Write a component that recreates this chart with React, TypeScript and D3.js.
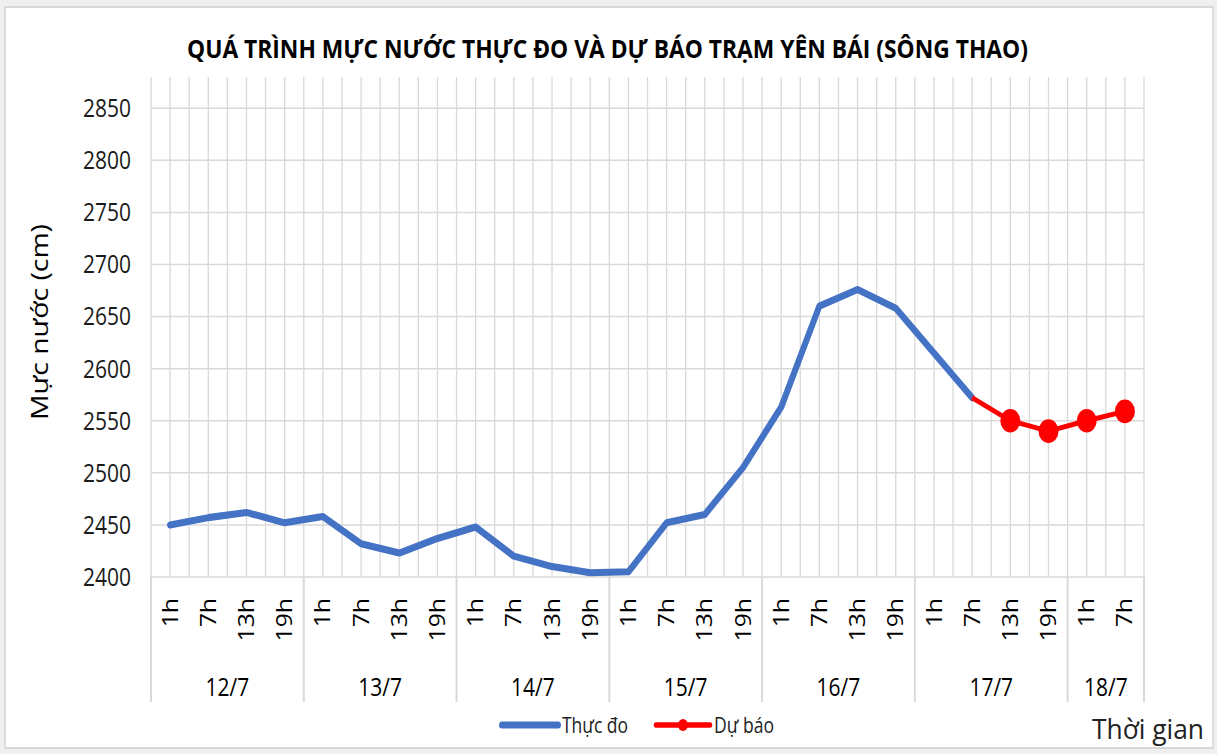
import React from "react";
import * as d3 from "d3";

// water level, station Yên Bái (sông Thao)
const days = ["12/7", "13/7", "14/7", "15/7", "16/7", "17/7", "18/7"];
const hours = ["1h", "7h", "13h", "19h"];
const categories = [
  ...days.slice(0, 6).flatMap(d => hours.map(h => ({ day: d, hour: h }))),
  { day: "18/7", hour: "1h" },
  { day: "18/7", hour: "7h" },
];

const observed = [
  2450, 2457, 2462, 2452,
  2458, 2432, 2423, 2437,
  2448, 2420, 2410, 2404,
  2405, 2452, 2460, 2505,
  2563, 2660, 2676, 2658,
  2615, 2572,
];
// first value is the last observed point, no marker there
const forecast = [2572, 2550, 2540, 2550, 2559];
const forecastStart = 21;

const yTicks = d3.range(2400, 2851, 50);

const W = 1217;
const H = 754;
const S = 1.18; // the picture is a bit stretched vertically
const v = (px: number) => px / S;

const margin = { left: 151, right: 1144, top: 77, bottom: 577 };
const font = "'Open Sans', sans-serif";
const gridColor = "#d9d9d9";

export default function App() {
  const x = d3
    .scaleBand<number>()
    .domain(categories.map((_, i) => i))
    .range([margin.left, margin.right]);
  const bw = x.bandwidth();
  const cx = (i: number) => (x(i) as number) + bw / 2;

  const y = d3.scaleLinear().domain([2400, 2880]).range([v(margin.bottom), v(margin.top)]);

  const line = d3
    .line<{ i: number; val: number }>()
    .x(d => cx(d.i))
    .y(d => y(d.val));

  const obsData = observed.map((val, i) => ({ i, val }));
  const fcData = forecast.map((val, k) => ({ i: forecastStart + k, val }));

  // day groups
  const groups = days.map(d => {
    const idx = categories.map((c, i) => (c.day === d ? i : -1)).filter(i => i >= 0);
    return { day: d, first: idx[0], last: idx[idx.length - 1] };
  });
  const sepX = [...groups.map(g => x(g.first) as number), margin.right];

  const vLines = d3.range(0, categories.length * 2 + 1).map(k => margin.left + (k * bw) / 2);

  return (
    <svg
      width={W}
      height={H}
      viewBox={`0 0 ${W} ${H / S}`}
      preserveAspectRatio="none"
      style={{ position: "absolute", left: 0, top: 0 }}
      fontFamily={font}
    >
      <rect x={0} y={0} width={W} height={H / S} fill="#efefef" />
      <rect x={5} y={v(7)} width={1208} height={v(741)} fill="#fff" stroke="#d4d4d4" strokeWidth={1.5} />

      <text
        x={187}
        y={v(58)}
        fontSize={21.5}
        fontWeight="bold"
        textLength={841}
        lengthAdjust="spacingAndGlyphs"
        fill="#000"
      >
        QUÁ TRÌNH MỰC NƯỚC THỰC ĐO VÀ DỰ BÁO TRẠM YÊN BÁI (SÔNG THAO)
      </text>

      {/* grid */}
      <g stroke={gridColor} strokeWidth={1.3}>
        {vLines.map((px, k) => (
          <line key={"v" + k} x1={px} x2={px} y1={v(margin.top)} y2={v(margin.bottom)} />
        ))}
        {yTicks.map(t => (
          <line key={"h" + t} x1={margin.left} x2={margin.right} y1={y(t)} y2={y(t)} />
        ))}
      </g>

      {/* y axis labels */}
      <g fontSize={21} fill="#1a1a1a" textAnchor="end">
        {yTicks.map(t => (
          <text key={t} x={131} y={y(t)} dy="0.36em">
            {t}
          </text>
        ))}
      </g>
      <text
        transform={`translate(40,${v(322)}) rotate(-90)`}
        textAnchor="middle"
        dy="0.35em"
        fontSize={24}
        fontWeight={500}
        fill="#000"
      >
        Mực nước (cm)
      </text>

      {/* category axis */}
      <g stroke={gridColor} strokeWidth={2}>
        {sepX.map((px, k) => (
          <line key={k} x1={px} x2={px} y1={v(margin.bottom)} y2={v(702)} />
        ))}
      </g>
      <g fontSize={21} fill="#000">
        {categories.map((c, i) => (
          <text
            key={i}
            transform={`translate(${cx(i)},${v(598)}) rotate(-90)`}
            textAnchor="end"
            dy="0.36em"
          >
            {c.hour}
          </text>
        ))}
        {groups.map(g => (
          <text
            key={g.day}
            x={((x(g.first) as number) + (x(g.last) as number) + bw) / 2}
            y={v(687)}
            dy="0.36em"
            textAnchor="middle"
          >
            {g.day}
          </text>
        ))}
      </g>

      {/* series */}
      <path
        d={line(obsData) ?? ""}
        fill="none"
        stroke="#4472C4"
        strokeWidth={6}
        strokeLinejoin="round"
        strokeLinecap="round"
      />
      <path
        d={line(fcData) ?? ""}
        fill="none"
        stroke="#FF0000"
        strokeWidth={4.2}
        strokeLinejoin="round"
      />
      {fcData.slice(1).map(d => (
        <circle key={d.i} cx={cx(d.i)} cy={y(d.val)} r={10} fill="#FF0000" />
      ))}

      {/* legend */}
      <line x1={502} x2={558} y1={v(725)} y2={v(725)} stroke="#4472C4" strokeWidth={6} strokeLinecap="round" />
      <text x={562} y={v(725)} dy="0.36em" fontSize={19} textLength={66} lengthAdjust="spacingAndGlyphs" fill="#222">
        Thực đo
      </text>
      <line x1={656} x2={710} y1={v(725)} y2={v(725)} stroke="#FF0000" strokeWidth={4.5} strokeLinecap="round" />
      <circle cx={683} cy={v(725)} r={5} fill="#FF0000" />
      <text x={714} y={v(725)} dy="0.36em" fontSize={19} textLength={60} lengthAdjust="spacingAndGlyphs" fill="#222">
        Dự báo
      </text>
      <text x={1092} y={v(729)} dy="0.36em" fontSize={23} textLength={112} lengthAdjust="spacingAndGlyphs" fill="#222">
        Thời gian
      </text>
    </svg>
  );
}
